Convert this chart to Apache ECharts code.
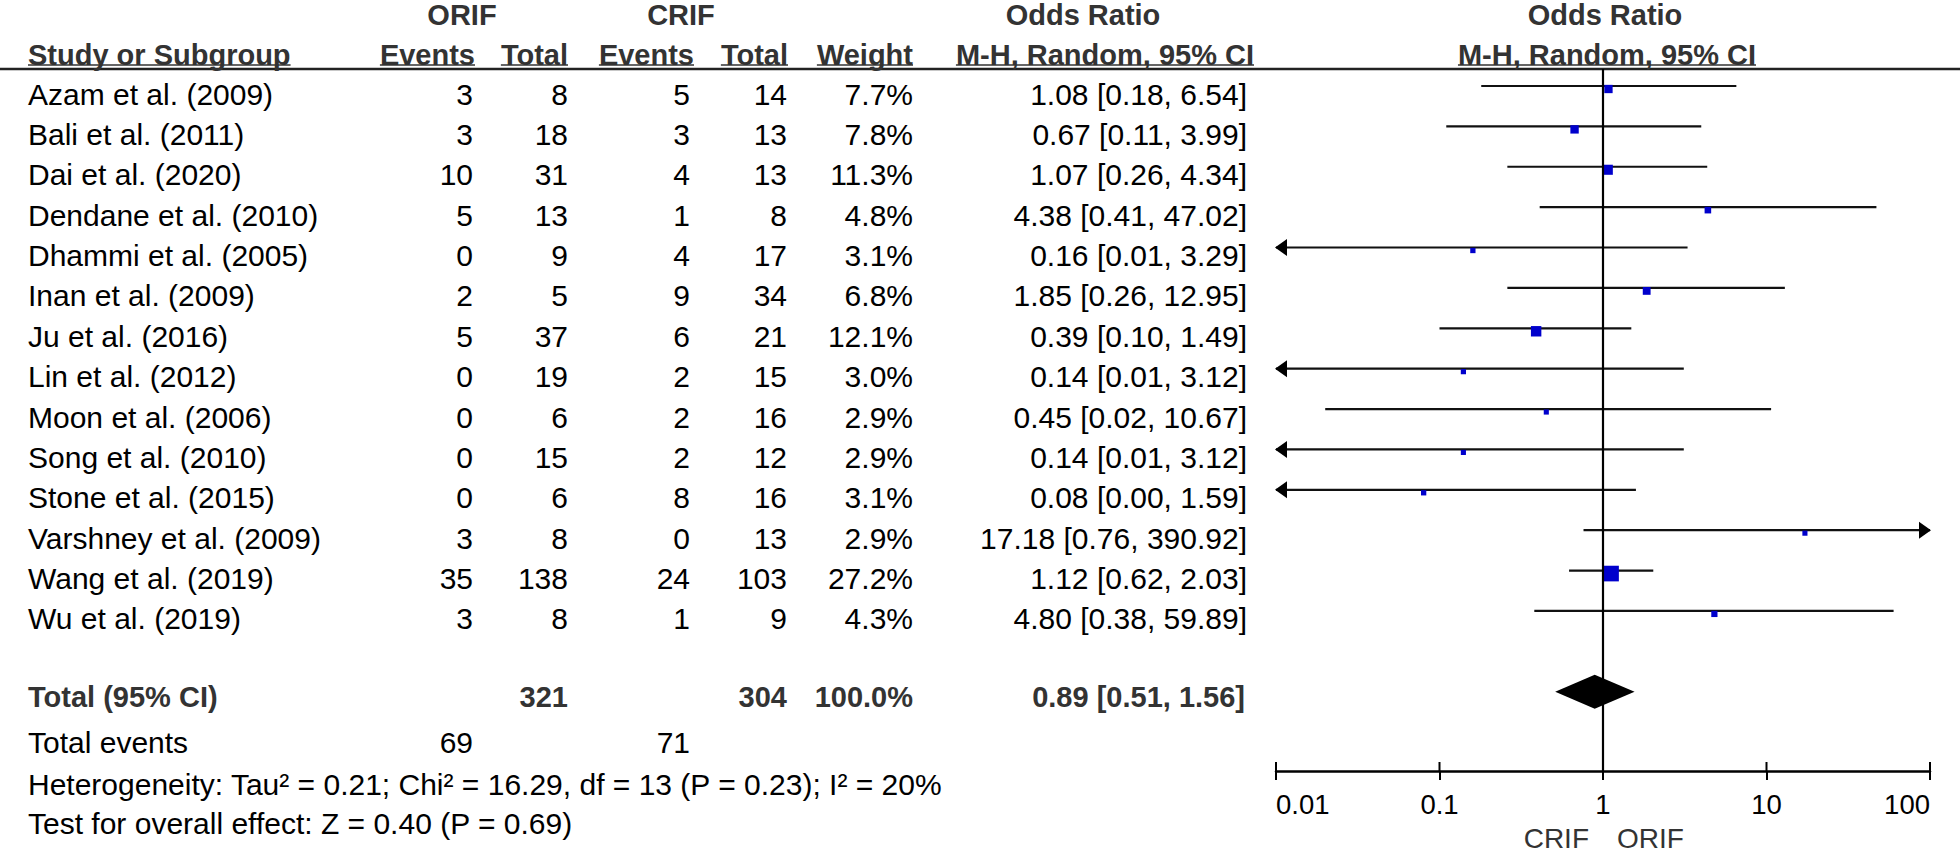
<!DOCTYPE html>
<html><head><meta charset="utf-8">
<script src="https://cdn.jsdelivr.net/npm/echarts@6/dist/echarts.min.js"></script>
<style>html,body{margin:0;padding:0;background:#fff}#c{width:1960px;height:853px}</style>
</head><body><div id="c"></div>
<script>
// ---------------- data ----------------
const studies = ['Azam et al. (2009)','Bali et al. (2011)','Dai et al. (2020)','Dendane et al. (2010)','Dhammi et al. (2005)','Inan et al. (2009)','Ju et al. (2016)','Lin et al. (2012)','Moon et al. (2006)','Song et al. (2010)','Stone et al. (2015)','Varshney et al. (2009)','Wang et al. (2019)','Wu et al. (2019)'];
const orifEvents = [3,3,10,5,0,2,5,0,0,0,0,3,35,3];
const orifTotal  = [8,18,31,13,9,5,37,19,6,15,6,8,138,8];
const crifEvents = [5,3,4,1,4,9,6,2,2,2,8,0,24,1];
const crifTotal  = [14,13,13,8,17,34,21,15,16,12,16,13,103,9];
const weights    = [7.7,7.8,11.3,4.8,3.1,6.8,12.1,3.0,2.9,2.9,3.1,2.9,27.2,4.3];
const oddsRatio  = [1.08,0.67,1.07,4.38,0.16,1.85,0.39,0.14,0.45,0.14,0.08,17.18,1.12,4.80];
const ciLower    = [0.18,0.11,0.26,0.41,0.01,0.26,0.10,0.01,0.02,0.01,0.00,0.76,0.62,0.38];
const ciUpper    = [6.54,3.99,4.34,47.02,3.29,12.95,1.49,3.12,10.67,3.12,1.59,390.92,2.03,59.89];
const totalOR    = [0.89, 0.51, 1.56];   // estimate, lower, upper
const totalN     = [321, 304];           // ORIF, CRIF
const totalWeight = '100.0%';
const totalEvents = [69, 71];            // ORIF, CRIF
const heterogeneity = 'Heterogeneity: Tau² = 0.21; Chi² = 16.29, df = 13 (P = 0.23); I² = 20%';
const overallEffect = 'Test for overall effect: Z = 0.40 (P = 0.69)';
const favours = ['CRIF', 'ORIF'];
const tickValues = [0.01, 0.1, 1, 10, 100];
const tickLabels = ['0.01', '0.1', '1', '10', '100'];

// ---------------- layout ----------------
const FF = '"Liberation Sans", Arial, Helvetica, sans-serif';
const FS = 30, FSB = 29;
const ROW0 = 86, ROWH = 40.38;           // pixel of row 0 line, row height
const rowOf = px => (px - ROW0) / ROWH;
const TXT = 8 / ROWH;                    // text centre offset below CI line
const PLOT = {left: 1276, right: 1930, top: 69, bottom: 771};
const COL = {name: 28, oe: 473, ot: 568, ce: 690, ct: 787, w: 913, or: 1247};
const HEAD1 = rowOf(15), HEAD2 = rowOf(55), UL = rowOf(65), RULE = rowOf(69);
const TOTAL_ROW = 15;

const fmt = v => v.toFixed(2);
const measureCtx = document.createElement('canvas').getContext('2d');
function textWidth(t, bold) {
  measureCtx.font = (bold ? 'bold ' + FSB : FS) + 'px ' + FF;
  return measureCtx.measureText(t).width;
}

// ---------------- table cells ----------------
const cells = [];
function cell(x, y, t, align, bold, ul) { cells.push({x, y, t: String(t), align, bold: !!bold, ul: !!ul}); }
cell(462, HEAD1, 'ORIF', 'center', true);
cell(681, HEAD1, 'CRIF', 'center', true);
cell(1083, HEAD1, 'Odds Ratio', 'center', true);
cell(1605, HEAD1, 'Odds Ratio', 'center', true);
cell(COL.name, HEAD2, 'Study or Subgroup', 'left', true, true);
cell(475, HEAD2, 'Events', 'right', true, true);
cell(568, HEAD2, 'Total', 'right', true, true);
cell(694, HEAD2, 'Events', 'right', true, true);
cell(788, HEAD2, 'Total', 'right', true, true);
cell(913, HEAD2, 'Weight', 'right', true, true);
cell(1254, HEAD2, 'M-H, Random, 95% CI', 'right', true, true);
cell(1607, HEAD2, 'M-H, Random, 95% CI', 'center', true, true);
studies.forEach((s, i) => {
  const y = i + TXT;
  cell(COL.name, y, s, 'left');
  cell(COL.oe, y, orifEvents[i], 'right');
  cell(COL.ot, y, orifTotal[i], 'right');
  cell(COL.ce, y, crifEvents[i], 'right');
  cell(COL.ct, y, crifTotal[i], 'right');
  cell(COL.w, y, weights[i].toFixed(1) + '%', 'right');
  cell(COL.or, y, fmt(oddsRatio[i]) + ' [' + fmt(ciLower[i]) + ', ' + fmt(ciUpper[i]) + ']', 'right');
});
const yT = rowOf(697), yE = rowOf(742), yH = rowOf(784), yZ = rowOf(823);
cell(COL.name, yT, 'Total (95% CI)', 'left', true);
cell(COL.ot, yT, totalN[0], 'right', true);
cell(COL.ct, yT, totalN[1], 'right', true);
cell(COL.w, yT, totalWeight, 'right', true);
cell(COL.or - 2, yT, fmt(totalOR[0]) + ' [' + fmt(totalOR[1]) + ', ' + fmt(totalOR[2]) + ']', 'right', true);
cell(COL.name, yE, 'Total events', 'left');
cell(COL.oe, yE, totalEvents[0], 'right');
cell(COL.ce, yE, totalEvents[1], 'right');
cell(COL.name, yH, heterogeneity, 'left');
cell(COL.name, yZ, overallEffect, 'left');

// ---------------- chart ----------------
const chart = echarts.init(document.getElementById('c'), null, {renderer: 'svg'});
const H = 853, W = 1960;
const AXIS_ROW = rowOf(PLOT.bottom);
chart.setOption({
  animation: false,
  backgroundColor: '#fff',
  grid: [
    {left: PLOT.left, top: PLOT.top, width: PLOT.right - PLOT.left, height: PLOT.bottom - PLOT.top, containLabel: false},
    {left: 0, top: 0, width: W, height: H, containLabel: false}
  ],
  xAxis: [
    {
      type: 'log', logBase: 10, min: 0.01, max: 100, gridIndex: 0, position: 'bottom', splitNumber: 4,
      splitLine: {show: false}, minorTick: {show: false},
      axisLine: {show: true, onZero: false, lineStyle: {color: '#000', width: 2.5}},
      axisTick: {show: true, length: 9, inside: false, lineStyle: {color: '#000', width: 2}},
      axisLabel: {
        show: true, margin: 19, fontSize: 27.5, fontFamily: FF, color: '#000',
        alignMinLabel: 'left', alignMaxLabel: 'right',
        formatter: v => {
          const k = tickValues.findIndex(t => Math.abs(Math.log10(t) - Math.log10(v)) < 1e-6);
          return k >= 0 ? tickLabels[k] : '';
        }
      }
    },
    {type: 'value', gridIndex: 1, min: 0, max: W, show: false}
  ],
  yAxis: [
    {type: 'value', gridIndex: 0, inverse: true, min: rowOf(PLOT.top), max: AXIS_ROW, show: false},
    {type: 'value', gridIndex: 1, inverse: true, min: rowOf(0), max: rowOf(H), show: false}
  ],
  series: [
    // header rule
    {
      type: 'custom', xAxisIndex: 1, yAxisIndex: 1, silent: true, z: 2,
      data: [[0, W, RULE]],
      renderItem: (p, api) => {
        const a = api.coord([api.value(0), api.value(2)]), b = api.coord([api.value(1), api.value(2)]);
        return {type: 'line', shape: {x1: a[0], y1: a[1], x2: b[0], y2: b[1]}, style: {stroke: '#222', lineWidth: 2.5}};
      }
    },
    // table text
    {
      type: 'custom', xAxisIndex: 1, yAxisIndex: 1, silent: true, z: 3,
      data: cells.map((c, i) => [c.x, c.y, i]),
      renderItem: (p, api) => {
        const c = cells[api.value(2)];
        const pt = api.coord([api.value(0), api.value(1)]);
        const children = [{
          type: 'text',
          style: {
            text: c.t, x: pt[0], y: pt[1], align: c.align, verticalAlign: 'middle',
            fontSize: c.bold ? FSB : FS, fontFamily: FF, fontWeight: c.bold ? 'bold' : 'normal', fill: c.bold ? '#333' : '#000'
          }
        }];
        if (c.ul) {
          const w = textWidth(c.t, c.bold);
          const x0 = c.align === 'left' ? pt[0] : c.align === 'right' ? pt[0] - w : pt[0] - w / 2;
          const yl = api.coord([0, UL])[1];
          children.push({type: 'line', shape: {x1: x0, y1: yl, x2: x0 + w, y2: yl}, style: {stroke: '#333', lineWidth: 1.5}});
        }
        return {type: 'group', children};
      }
    },
    // upward halves of the axis ticks
    {
      type: 'custom', xAxisIndex: 0, yAxisIndex: 0, silent: true, z: 3, clip: false,
      data: tickValues.map(v => [v, AXIS_ROW]),
      renderItem: (p, api) => {
        const a = api.coord([api.value(0), api.value(1)]);
        return {type: 'line', shape: {x1: a[0], y1: a[1], x2: a[0], y2: a[1] - 9}, style: {stroke: '#000', lineWidth: 2}};
      }
    },
    // CI lines with arrows
    {
      type: 'custom', xAxisIndex: 0, yAxisIndex: 0, silent: true, z: 3, clip: false,
      data: studies.map((s, i) => [ciLower[i], ciUpper[i], i]),
      renderItem: (p, api) => {
        const lo = api.value(0), hi = api.value(1), r = api.value(2);
        const loC = Math.max(lo, 0.01), hiC = Math.min(hi, 100);
        const a = api.coord([loC, r]), b = api.coord([hiC, r]);
        const children = [{type: 'line', shape: {x1: a[0], y1: a[1], x2: b[0], y2: b[1]}, style: {stroke: '#111', lineWidth: 2.2}}];
        if (lo <= 0.01) children.push({type: 'polygon', shape: {points: [[a[0] - 1, a[1]], [a[0] + 11, a[1] - 8.5], [a[0] + 11, a[1] + 8.5]]}, style: {fill: '#000'}});
        if (hi >= 100) children.push({type: 'polygon', shape: {points: [[b[0] + 1, b[1]], [b[0] - 11, b[1] - 8.5], [b[0] - 11, b[1] + 8.5]]}, style: {fill: '#000'}});
        return {type: 'group', children};
      }
    },
    // squares + reference line
    {
      type: 'scatter', xAxisIndex: 0, yAxisIndex: 0, silent: true, z: 4,
      symbol: 'rect', symbolOffset: [0, 3],
      symbolSize: v => 3.0 * Math.sqrt(v[2]),
      itemStyle: {color: '#0000CC', opacity: 1},
      data: studies.map((s, i) => [oddsRatio[i], i, weights[i]]),
      markLine: {
        silent: true, symbol: 'none', animation: false,
        label: {show: false},
        lineStyle: {color: '#000', width: 2.2, type: 'solid', opacity: 1},
        data: [{xAxis: 1}]
      }
    },
    // diamond + favours labels
    {
      type: 'custom', xAxisIndex: 0, yAxisIndex: 0, silent: true, z: 5, clip: false,
      data: [[totalOR[0], totalOR[1], totalOR[2], TOTAL_ROW]],
      renderItem: (p, api) => {
        const r = api.value(3);
        const c = api.coord([api.value(0), r]), l = api.coord([api.value(1), r]), h = api.coord([api.value(2), r]);
        const one = api.coord([1, rowOf(838)]);
        return {type: 'group', children: [
          {type: 'polygon', shape: {points: [[l[0], c[1]], [c[0], c[1] - 17], [h[0], c[1]], [c[0], c[1] + 17]]}, style: {fill: '#000'}},
          {type: 'text', style: {text: favours[0], x: one[0] - 14, y: one[1], align: 'right', verticalAlign: 'middle', fontSize: 28, fontFamily: FF, fill: '#333'}},
          {type: 'text', style: {text: favours[1], x: one[0] + 14, y: one[1], align: 'left', verticalAlign: 'middle', fontSize: 28, fontFamily: FF, fill: '#333'}}
        ]};
      }
    }
  ]
});
</script>
</body></html>
